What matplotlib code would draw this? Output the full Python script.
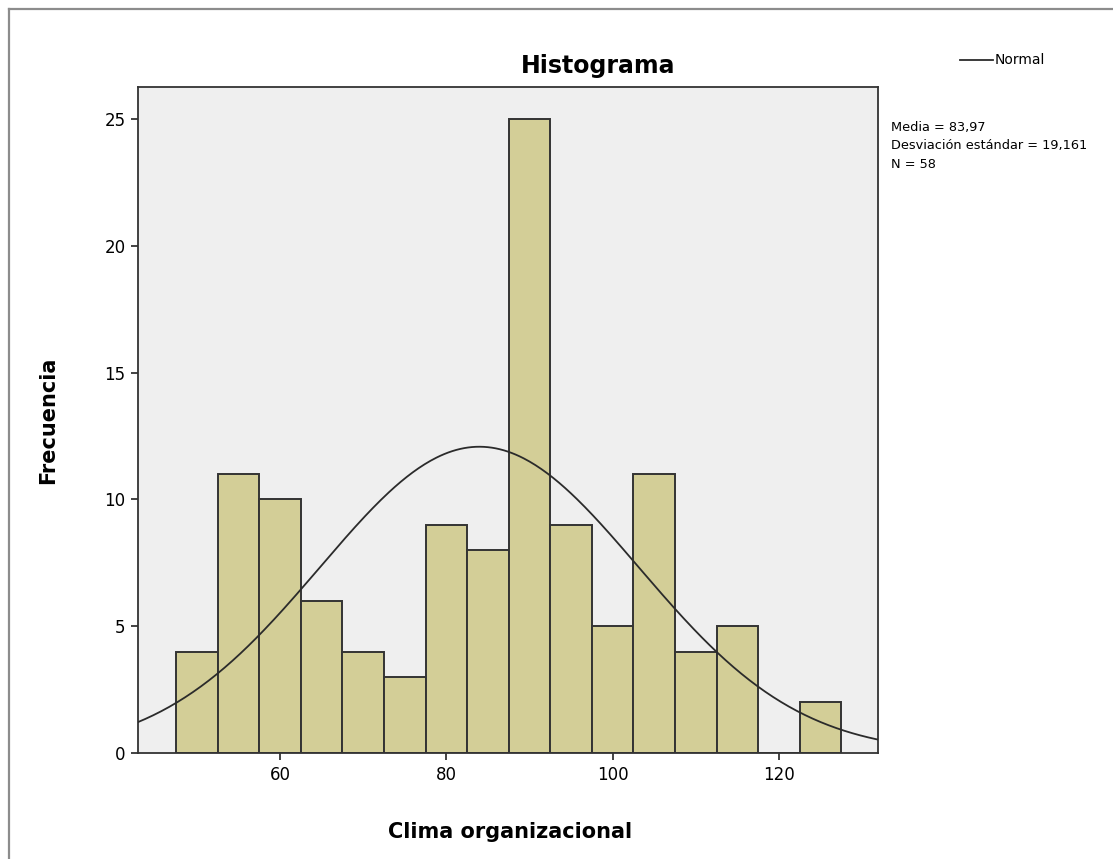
import numpy as np
import matplotlib
matplotlib.use('Agg')
import matplotlib.pyplot as plt
from matplotlib.lines import Line2D

# histogram data (bin width 5)
bin_left = [47.5, 52.5, 57.5, 62.5, 67.5, 72.5, 77.5, 82.5,
            87.5, 92.5, 97.5, 102.5, 107.5, 112.5, 117.5, 122.5]
counts = [4, 11, 10, 6, 4, 3, 9, 8, 25, 9, 5, 11, 4, 5, 0, 2]
bin_width = 5

media = 83.97
desv = 19.161
n_label = 58

plt.rcParams['font.family'] = ['DejaVu Sans']

fig = plt.figure(figsize=(11.13, 8.59), dpi=100)
fig.patch.set_facecolor('white')

# outer frame (gray, top and left visible)
fig.add_artist(Line2D([9 / 1113, 9 / 1113], [0, 1 - 9 / 859],
                      transform=fig.transFigure, color='#8c8c8c', lw=1.6))
fig.add_artist(Line2D([9 / 1113, 1], [1 - 9 / 859, 1 - 9 / 859],
                      transform=fig.transFigure, color='#8c8c8c', lw=1.6))

ax = fig.add_axes([138 / 1113, 1 - 753 / 859, 740 / 1113, 666 / 859])
ax.set_facecolor('#efefef')

ax.bar(bin_left, counts, width=bin_width, align='edge',
       color='#d3ce97', edgecolor='#333333', linewidth=1.4, zorder=2)

xs = np.linspace(40, 135, 400)
scale = sum(counts) * bin_width
ys = scale / (desv * np.sqrt(2 * np.pi)) * np.exp(-0.5 * ((xs - media) / desv) ** 2)
ax.plot(xs, ys, color='#2b2b2b', lw=1.3, zorder=3)

ax.set_xlim(42.93, 131.9)
ax.set_ylim(0, 26.26)
ax.set_xticks([60, 80, 100, 120])
ax.set_yticks([0, 5, 10, 15, 20, 25])
ax.tick_params(axis='both', direction='out', length=5, width=1.2,
               color='#222222', labelsize=12, pad=4)
for s in ax.spines.values():
    s.set_color('#333333')
    s.set_linewidth(1.3)

fig.text(598 / 1113, 1 - 66 / 859, 'Histograma', fontsize=17,
         fontweight='bold', ha='center', va='center')
fig.text(510 / 1113, 1 - 832 / 859, 'Clima organizacional', fontsize=15,
         fontweight='bold', ha='center', va='center')
fig.text(48 / 1113, 1 - 420 / 859, 'Frecuencia', fontsize=15,
         fontweight='bold', ha='center', va='center', rotation=90)

# legend and statistics
fig.add_artist(Line2D([960 / 1113, 993 / 1113], [1 - 60 / 859, 1 - 60 / 859],
                      transform=fig.transFigure, color='#2b2b2b', lw=1.3))
fig.text(995 / 1113, 1 - 60 / 859, 'Normal', fontsize=10, va='center')

stats = ['Media = ' + f'{media:.2f}'.replace('.', ','),
         'Desviación estándar = ' + f'{desv:.3f}'.replace('.', ','),
         'N = ' + str(n_label)]
for i, t in enumerate(stats):
    fig.text(891 / 1113, 1 - (127 + i * 18.5) / 859, t, fontsize=9.3, va='center')

fig.savefig('out.png', dpi=100)
